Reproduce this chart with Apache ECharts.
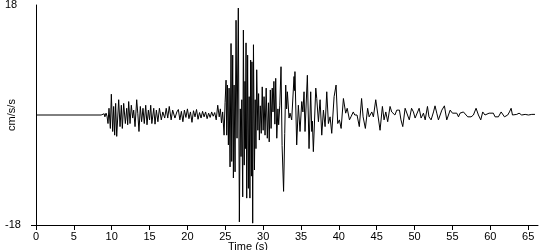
<!DOCTYPE html>
<html><head><meta charset="utf-8">
<script src="https://cdn.jsdelivr.net/npm/echarts@6/dist/echarts.min.js"></script>
<style>html,body{margin:0;padding:0;background:#fff}#c{width:550px;height:250px}</style>
</head><body><div id="c"></div>
<script>
// Time (s) and acceleration (cm/s/s)
const timeSec = [0,8.6,8.8,9.0,9.1,9.25,9.38,
9.51,9.64,9.82,9.95,10.13,10.26,10.39,10.52,10.66,10.92,11.1,11.27,11.4,11.58,11.8,11.98,12.11,12.24,12.42,12.59,12.77,12.9,13.08,13.3,13.45,13.6,13.78,13.95,14.13,14.3,14.49,14.66,14.84,15.0,15.15,15.3,15.55,15.72,15.9,16.1,16.3,16.55,16.75,17.0,17.2,17.4,17.6,17.85,18.05,18.35,18.6,
18.8,19.0,19.2,19.4,19.6,19.8,20.0,20.2,20.4,20.6,20.8,21.0,21.2,21.4,21.6,21.8,22.0,22.2,22.4,22.6,22.8,23.0,23.2,23.4,23.6,23.8,24.0,24.2,24.35,24.5,
24.65,24.84,24.97,25.1,25.19,25.28,25.41,25.5,25.63,25.76,25.85,25.98,26.07,26.16,26.29,26.42,26.55,26.72,26.86,26.98,27.08,27.18,27.3,27.39,27.5,27.6,27.66,27.74,27.83,27.95,28.05,28.15,28.25,28.35,28.45,28.52,28.62,28.72,28.85,28.95,29.05,29.15,29.3,29.4,29.5,29.62,29.75,29.88,30.0,30.12,30.25,30.4,30.55,30.7,30.8,30.95,31.05,31.2,31.3,31.42,31.55,31.66,31.8,31.95,32.05,32.2,32.36,32.5,32.7,32.85,32.98,33.1,33.2,33.42,33.55,33.77,34.08,34.14,34.2,34.43,34.65,34.87,35.1,35.25,35.4,35.53,35.84,36.06,36.28,36.42,36.5,36.63,36.95,37.08,37.3,
37.52,37.74,37.96,38.18,38.4,38.62,38.84,39.06,39.37,39.63,39.85,40.07,40.3,40.6,40.9,41.1,41.4,41.6,41.9,42.1,42.4,42.7,43.0,43.2,43.5,43.8,44.0,44.35,44.56,44.87,45.13,45.44,45.75,45.97,46.2,46.45,46.76,46.98,47.2,47.4,47.65,48.0,48.2,48.44,48.75,48.97,49.3,49.6,49.85,50.07,
50.3,50.6,50.86,51.17,51.4,51.7,51.9,52.18,52.5,52.7,52.93,53.15,53.37,53.6,53.94,54.25,54.47,54.7,55.0,55.26,55.57,55.8,56.0,56.45,56.67,57.02,57.2,57.46,57.77,58.12,58.43,58.74,59.0,59.3,59.53,59.84,60.1,60.4,60.63,60.85,61.07,61.43,61.65,61.87,62.09,62.3,62.53,62.75,62.93,63.19,63.5,63.8,64.15,64.6,65.04,65.48,65.9];
const accel = [0,0,-0.3,0.2,-0.3,0.3,-0.2,
-1.4,1.1,-2.2,3.4,-2.7,1.4,-3.3,1.9,-3.5,2.5,-1.9,1.6,-2.2,1.9,-1.4,1.1,-1.6,2.2,-1.4,1.6,-0.5,0.8,-1.9,2.5,0.2,-2.7,1.4,-1.1,1.1,-1.4,1.6,-1.6,0.8,-0.8,1.6,-1.4,1.1,-1.5,0.8,-1.1,1.1,-0.8,0.5,-0.5,1.1,-0.5,1.4,-0.8,0.8,-0.5,0.5,
0.9,-0.8,0.6,-1.1,0.8,-0.4,1.0,-0.6,0.5,-1.2,0.7,-0.3,0.9,-0.7,0.4,-0.5,0.6,-0.3,0.5,-0.6,0.3,-0.4,0.5,-0.2,0.4,-0.8,1.6,-0.3,1.0,-1.3,
0.5,-3.3,2.0,5.7,-3.3,4.9,-4.9,4.4,-8.5,11.7,-7.6,9.8,-10.3,4.9,-9.3,15.5,-3.8,17.5,-17.5,1.0,-6.8,2.5,-13.4,13.9,-8.2,5.5,-5.5,11.8,-13.6,9.8,-12.0,3.0,-13.6,9.0,-10.0,8.7,-17.7,11.5,-9.0,2.5,-5.5,7.4,-2.5,3.5,-4.1,1.5,-3.0,4.6,-2.5,3.0,-3.3,4.4,-3.8,2.0,-4.4,4.1,-2.2,4.4,0.5,5.5,-1.5,6.0,-3.8,1.0,-1.6,1.6,7.9,-5.0,-12.5,-3.0,4.9,1.0,3.8,-0.5,0.3,-0.8,6.3,4.0,7.1,-4.9,1.6,-2.7,2.2,0.5,3.8,-2.7,6.5,-5.5,3.8,-2.7,-1.0,-6.0,4.4,2.7,-1.1,
2.5,-3.3,0.8,-1.9,3.8,-1.4,-0.3,-3.0,3.0,4.9,-1.4,-0.8,-2.2,2.7,0.3,1.1,-0.8,-0.3,0.5,0.0,0.0,-1.9,2.7,-0.3,-2.2,1.1,-0.3,0.5,-0.3,2.5,2.2,-2.5,1.4,-0.8,0.5,-1.1,1.4,0.5,0.3,0.0,0.8,0.8,-0.8,-1.9,1.1,1.4,-0.8,1.1,0.5,-0.5,
-0.8,1.1,-0.5,0.3,-0.8,1.4,-0.3,-0.8,0.5,1.5,0.3,-0.8,-1.1,0.8,1.5,-0.8,-1.1,0.8,0.3,0.0,0.3,-0.3,0.3,0.5,0.5,-0.3,-0.5,-0.3,0.0,1.1,0.0,-0.8,0.5,0.0,-0.3,0.3,0.0,0.3,-0.3,0.0,-0.3,0.5,0.8,-0.3,-0.5,0.0,0.5,1.1,0.0,-0.3,0.1,0.3,0.0,0.1,0.0,0.1,0.1];
const xTicks = [0,5,10,15,20,25,30,35,40,45,50,55,60,65];
const yLabels = [-18, 18];
const yTicks = [-18];

const seriesData = timeSec.map((t, i) => [t, accel[i]]);
const font = 'Liberation Sans, Arial, sans-serif';
const chart = echarts.init(document.getElementById('c'), null, {renderer: 'canvas'});
chart.setOption({
  animation: false,
  backgroundColor: '#fff',
  grid: {left: 36, right: 12, top: 5, bottom: 25, containLabel: false, outerBoundsMode: 'none'},
  xAxis: {
    type: 'value', min: 0, max: 66.3,
    name: 'Time (s)', nameLocation: 'middle', nameGap: 16, nameMoveOverlap: false,
    nameTextStyle: {color: '#000', fontSize: 11, fontFamily: font, padding: [0, 78, 0, 0]},
    axisLine: {show: true, onZero: false, lineStyle: {color: '#000', width: 1}},
    axisTick: {show: true, length: 5, lineStyle: {color: '#000'}, customValues: xTicks},
    axisLabel: {color: '#000', fontSize: 11, fontFamily: font, margin: 6, customValues: xTicks},
    splitLine: {show: false}
  },
  yAxis: {
    type: 'value', min: -18, max: 18,
    name: 'cm/s/s', nameLocation: 'middle', nameGap: 19, nameMoveOverlap: false,
    nameTextStyle: {color: '#000', fontSize: 11, fontFamily: font},
    axisLine: {show: true, onZero: false, lineStyle: {color: '#000', width: 1}},
    axisTick: {show: true, length: 5, lineStyle: {color: '#000'}, customValues: yTicks},
    axisLabel: {color: '#000', fontSize: 11, fontFamily: font, margin: 31, align: 'left', customValues: yLabels},
    splitLine: {show: false}
  },
  series: [{
    type: 'line', data: seriesData, showSymbol: false, smooth: false,
    lineStyle: {color: '#000', width: 1}, silent: true
  }]
});
</script></body></html>
